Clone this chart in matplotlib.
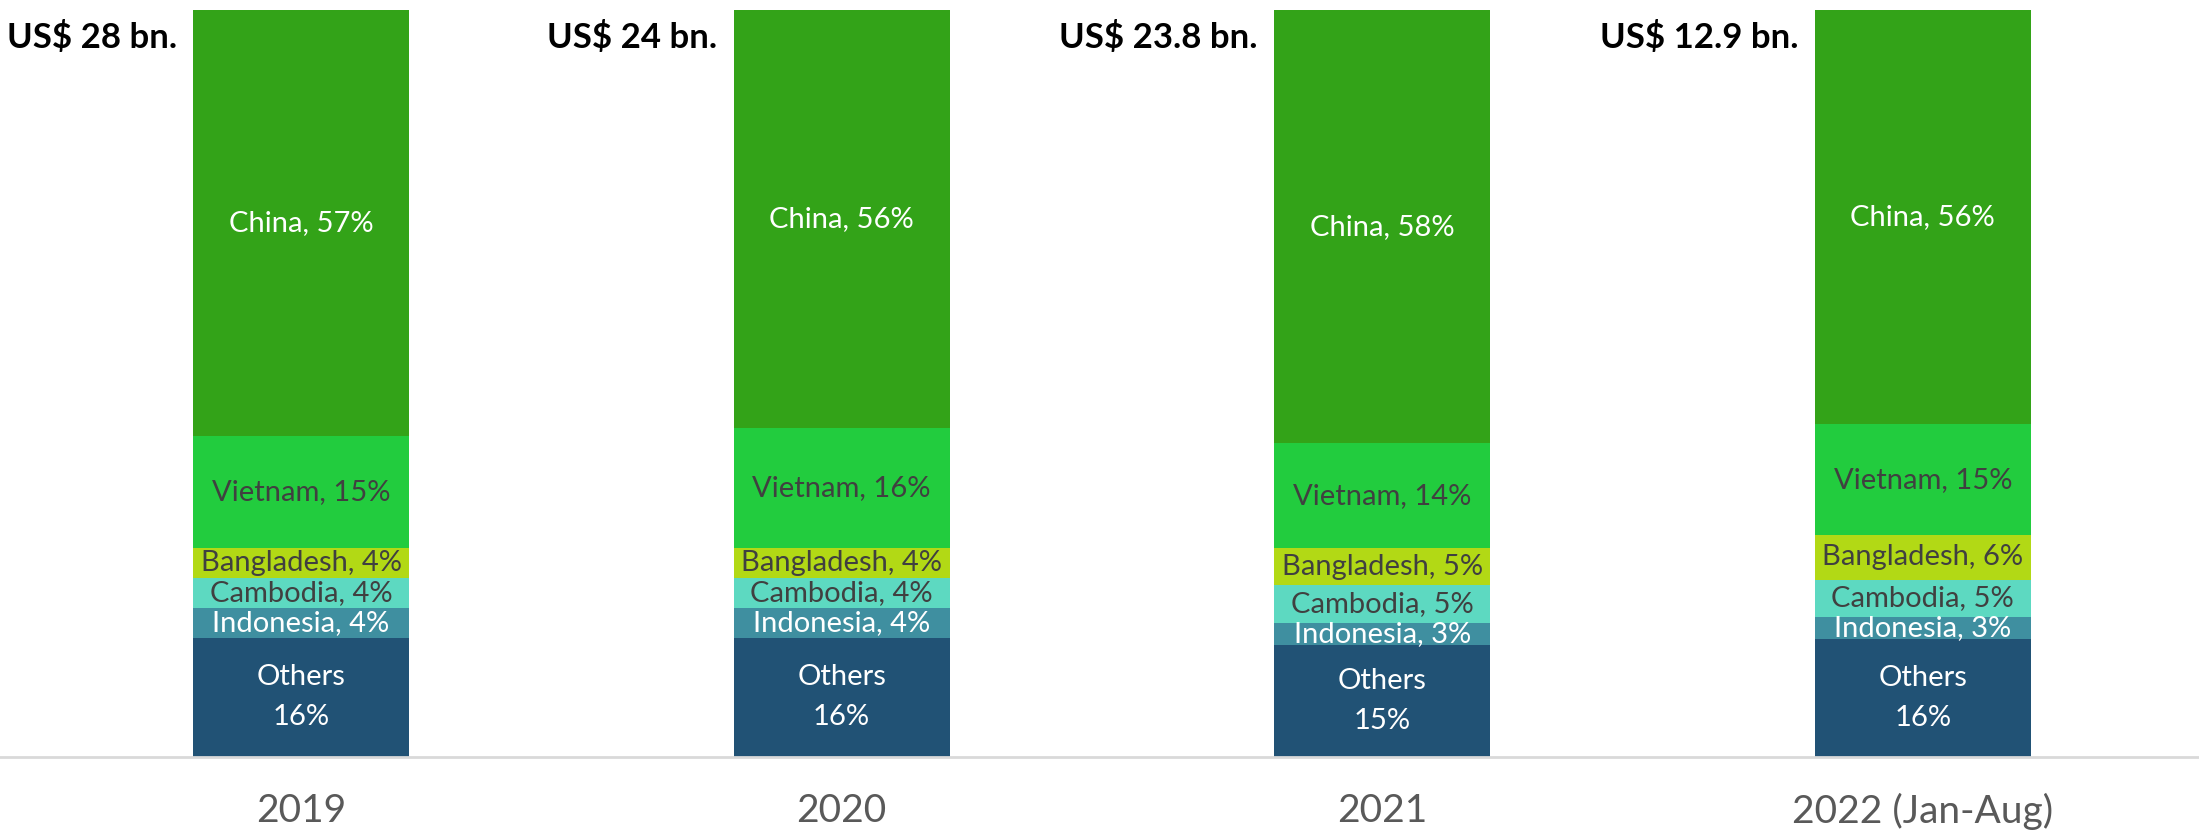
"""Sourcing share by supplier country, stacked 100% bars per year."""

import matplotlib.pyplot as plt

years = ["2019", "2020", "2021", "2022 (Jan-Aug)"]
totals = ["US$ 28 bn.", "US$ 24 bn.", "US$ 23.8 bn.", "US$ 12.9 bn."]

# bottom -> top
countries = ["Others", "Indonesia", "Cambodia", "Bangladesh", "Vietnam", "China"]
others = [16, 16, 15, 16]
indonesia = [4, 4, 3, 3]
cambodia = [4, 4, 5, 5]
bangladesh = [4, 4, 5, 6]
vietnam = [15, 16, 14, 15]
china = [57, 56, 58, 56]

colors = ["#215275", "#3F8FA0", "#5DD9C1", "#B2D915", "#22CC3E", "#33A318"]
text_colors = ["white", "white", "#404040", "#404040", "#404040", "white"]

plt.rcParams["font.family"] = ["Lato", "DejaVu Sans"]

series = [others, indonesia, cambodia, bangladesh, vietnam, china]
n = len(years)
sums = [sum(s[i] for s in series) for i in range(n)]

fig = plt.figure(figsize=(21.99, 8.31), dpi=100)
ax = fig.add_axes([0, 0.089, 1, 0.899])

width = 0.40
bottoms = [0.0] * n
for name, vals, c, tc in zip(countries, series, colors, text_colors):
    heights = [v / sums[i] * 100 for i, v in enumerate(vals)]
    ax.bar(range(n), heights, width, bottom=bottoms, color=c, linewidth=0)
    for i, h in enumerate(heights):
        y = bottoms[i] + h / 2
        if name == "Others":
            label = f"Others\n{vals[i]}%"
        else:
            label = f"{name}, {vals[i]}%"
        ax.text(i, y, label, ha="center", va="center", color=tc,
                fontsize=21, linespacing=1.65)
    bottoms = [b + h for b, h in zip(bottoms, heights)]

for i, t in enumerate(totals):
    ax.text(i - width / 2 - 0.03, 96.3, t, ha="right", va="center",
            fontsize=25, fontweight="bold", color="black")

ax.set_xlim(-0.557, 3.511)
ax.set_ylim(0, 100)
ax.set_xticks(range(n))
ax.set_xticklabels(years, fontsize=28, color="#595959")
ax.tick_params(axis="x", length=0, pad=26)
ax.set_yticks([])
for side in ["top", "left", "right"]:
    ax.spines[side].set_visible(False)
ax.spines["bottom"].set_color("#d9d9d9")
ax.spines["bottom"].set_linewidth(2)

fig.savefig("out.png", dpi=100)
